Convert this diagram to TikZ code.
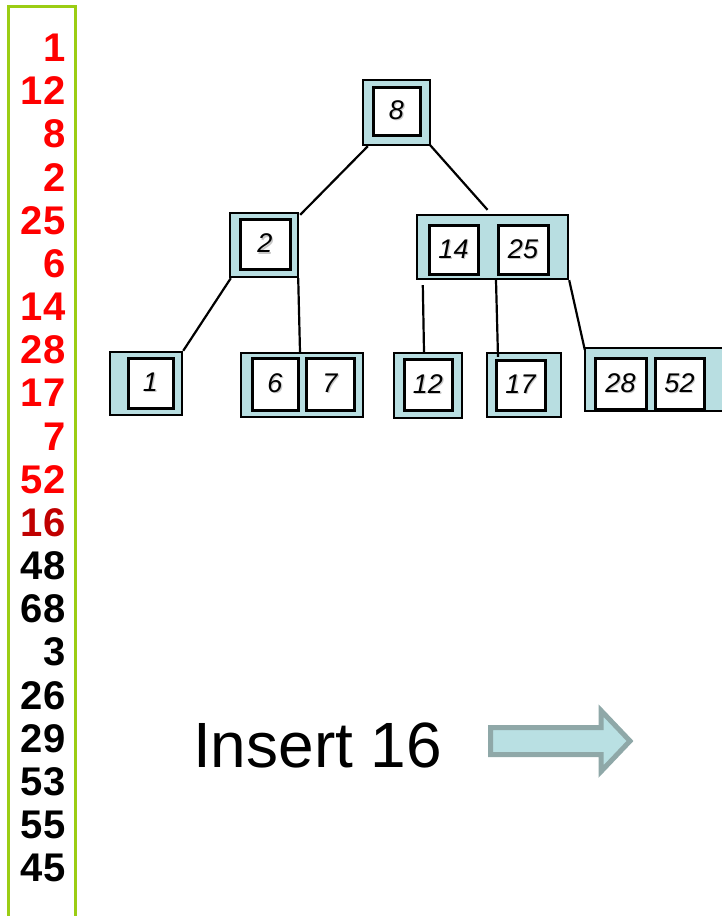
\documentclass[tikz,border=0pt]{standalone}
\usepackage{fontspec}
\setmainfont{Liberation Sans}
\usetikzlibrary{calc}
\definecolor{boxblue}{RGB}{184,222,225}
\definecolor{arrowfill}{RGB}{185,224,227}
\definecolor{arrowedge}{RGB}{143,168,168}
\definecolor{listgreen}{RGB}{155,205,20}
\definecolor{numred}{RGB}{255,0,0}
\definecolor{numdark}{RGB}{192,0,0}
\newcommand\shd[1]{\rlap{\kern1.2pt\raisebox{-1.2pt}{\color{black!22}#1}}#1}
\tikzset{
  outerbox/.style={draw=black, line width=2.4pt, fill=boxblue, inner sep=0pt},
  innerbox/.style={draw=black, line width=3pt, fill=white, inner sep=0pt,
    font=\fontsize{27}{30}\selectfont\itshape},
  edge/.style={draw=black, line width=2.2pt},
  listnum/.style={anchor=base east, inner sep=0pt, font=\fontsize{40}{40}\selectfont\bfseries},
}
\begin{document}
\begin{tikzpicture}[x=1pt,y=-1pt]
\useasboundingbox (0,0) rectangle (722,916);
% list box
\draw[listgreen, line width=3pt] (8.5,930) -- (8.5,6.5) -- (75.5,6.5) -- (75.5,930);
% numbers
\foreach \n/\c [count=\i from 0] in {1/numred,12/numred,8/numred,2/numred,25/numred,6/numred,14/numred,28/numred,17/numred,7/numred,52/numred,16/numdark,48/black,68/black,3/black,26/black,29/black,53/black,55/black,45/black}
  \node[listnum, text=\c] (num\i) at (65.5,{61.5+\i*43.17}) {\n};
% tree nodes
\node[outerbox, minimum width=67pt, minimum height=65pt] (root) at (396.5,112.5) {};
\node[innerbox, minimum width=47pt, minimum height=48pt] (r8) at (396.5,111) {\shd{8}};

\node[outerbox, minimum width=68pt, minimum height=64pt] (n2) at (264,245) {};
\node[innerbox, minimum width=50pt, minimum height=50pt] (k2) at (265,244) {\shd{2}};

\node[outerbox, minimum width=151pt, minimum height=64pt] (n1425) at (492.5,247) {};
\node[innerbox, minimum width=49pt, minimum height=49pt] (k14) at (453.5,249.5) {\shd{14}};
\node[innerbox, minimum width=50pt, minimum height=49pt] (k25) at (523,249.5) {\shd{25}};

\node[outerbox, minimum width=72pt, minimum height=63pt] (l1) at (146,383.5) {};
\node[innerbox, minimum width=45pt, minimum height=50pt] (k1) at (150.5,383) {\shd{1}};

\node[outerbox, minimum width=122pt, minimum height=64pt] (l67) at (302,385) {};
\node[innerbox, minimum width=46pt, minimum height=52pt] (k6) at (275,384) {\shd{6}};
\node[innerbox, minimum width=48pt, minimum height=52pt] (k7) at (330,384) {\shd{7}};

\node[outerbox, minimum width=68pt, minimum height=65pt] (l12) at (428,385.5) {};
\node[innerbox, minimum width=48pt, minimum height=51pt] (k12) at (428,384.5) {\shd{12}};

\node[outerbox, minimum width=74pt, minimum height=64pt] (l17) at (524,385) {};
\node[innerbox, minimum width=49pt, minimum height=50pt] (k17) at (520.5,385) {\shd{17}};

\node[outerbox, minimum width=154pt, minimum height=63pt] (l2852) at (662,379.5) {};
\node[innerbox, minimum width=51pt, minimum height=51pt] (k28) at (620.5,383.5) {\shd{28}};
\node[innerbox, minimum width=49pt, minimum height=51pt] (k52) at (679.5,383.5) {\shd{52}};

% edges
\draw[edge] ($(root.south west)+(6,0)$) -- ($(n2.north east)+(1,3)$);
\draw[edge] ($(root.south east)+(-1,-1)$) -- ($(n1425.north)+(-5,-4)$);
\draw[edge] ($(n2.south west)+(2,0)$) -- (l1.north east);
\draw[edge] ($(n2.south east)+(-1,0)$) -- ($(l67.north)+(-2,0)$);
\draw[edge] ($(n1425.south west)+(7,5)$) -- ($(l12.north)+(-4,0)$);
\draw[edge] ($(n1425.south)+(3.5,0)$) -- ($(l17.north)+(-26,5)$);
\draw[edge] (n1425.south east) -- ($(l2852.north west)+(1,3)$);

% insert text
\node[anchor=base west, inner sep=0pt, font=\fontsize{64}{64}\selectfont] (ins) at (193,767) {Insert 16};
% block arrow
\draw[fill=arrowfill, draw=arrowedge, line width=5pt, line join=miter]
  (490.5,727.5) -- (601,727.5) -- (601,710.5) -- (630,741) -- (601,771.5) -- (601,754.5) -- (490.5,754.5) -- cycle;
\end{tikzpicture}
\end{document}
